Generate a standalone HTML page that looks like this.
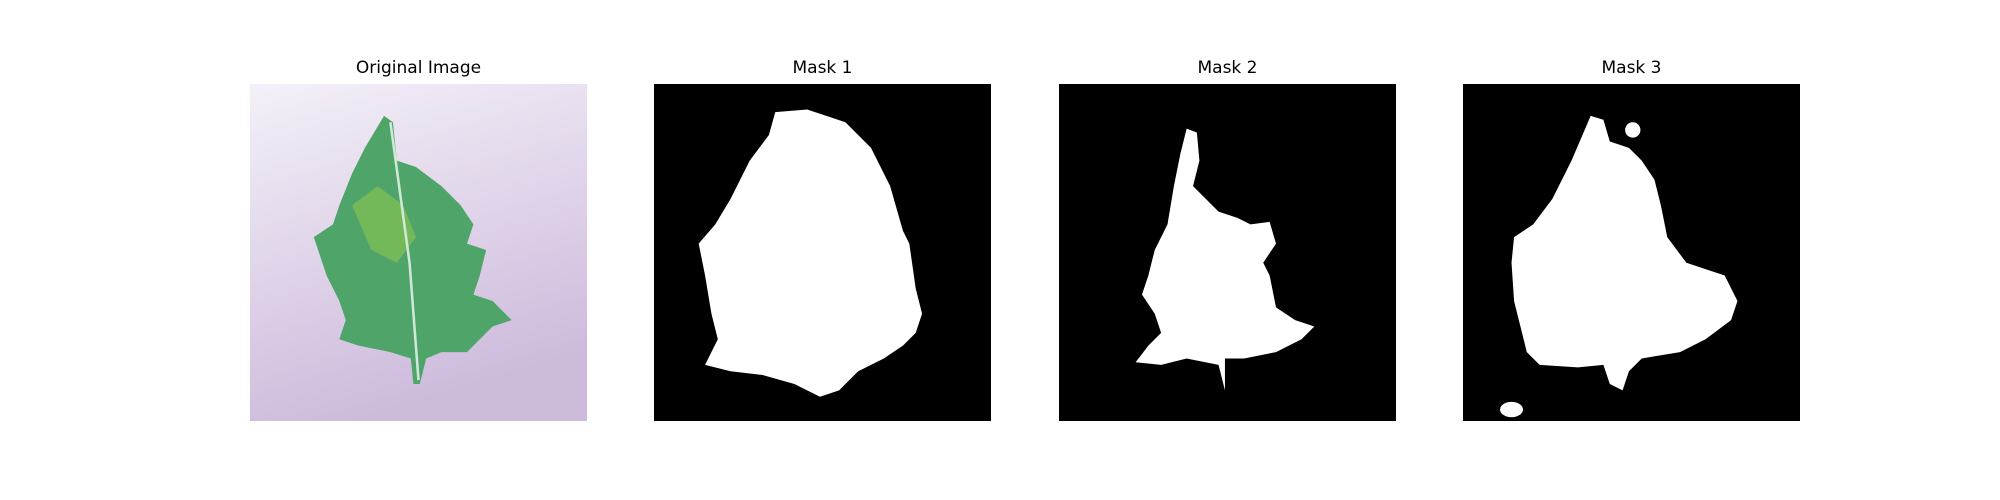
<!DOCTYPE html>
<html><head><meta charset="utf-8"><style>
body{margin:0;width:2000px;height:500px;background:#fff;position:relative;font-family:"DejaVu Sans","Liberation Sans",sans-serif;overflow:hidden}
.t{position:absolute;top:58px;width:337px;text-align:center;font-size:17px;color:#000}
svg{position:absolute;top:84px;width:337px;height:337px}
</style></head><body>
<div class="t" style="left:250px">Original Image</div>
<div class="t" style="left:654px">Mask 1</div>
<div class="t" style="left:1059px">Mask 2</div>
<div class="t" style="left:1463px">Mask 3</div>

<svg style="left:250px" viewBox="0 0 264 264">
<defs><linearGradient id="bg" x1="0" y1="0" x2="0.3" y2="1"><stop offset="0" stop-color="#f4f0f8"/><stop offset="1" stop-color="#cdbbdc"/></linearGradient></defs>
<rect width="264" height="264" fill="url(#bg)"/>
<path d="M105,25 L112,30 L115,60 L130,65 L150,80 L165,95 L175,110 L170,125 L185,130 L180,150 L175,165 L190,170 L205,185 L190,190 L180,200 L170,210 L150,210 L138,215 L133,235 L128,235 L126,215 L110,210 L85,205 L70,200 L75,185 L70,170 L60,150 L50,120 L65,110 L70,95 L80,70 L90,50 Z" fill="#4fa46a"/>
<path d="M80,95 L100,80 L120,95 L130,120 L115,140 L95,130 Z" fill="#8cc850" opacity="0.6"/>
<path d="M110,30 L125,140 L132,232" stroke="#cfe8d8" stroke-width="2" fill="none"/>
</svg>

<svg style="left:654px" viewBox="0 0 264 264">
<rect width="264" height="264" fill="#000"/>
<path d="M95,22 L120,20 L150,30 L170,50 L185,80 L195,115 L200,125 L205,160 L210,180 L205,195 L195,205 L180,215 L160,225 L145,240 L130,245 L110,235 L85,228 L60,225 L40,220 L50,200 L45,180 L40,150 L35,125 L48,110 L60,90 L75,60 L90,40 Z" fill="#fff"/>
</svg>

<svg style="left:1059px" viewBox="0 0 264 264">
<rect width="264" height="264" fill="#000"/>
<path d="M100,35 L108,38 L110,60 L105,80 L115,90 L125,100 L140,105 L150,110 L165,108 L170,125 L160,140 L165,150 L170,175 L185,185 L200,190 L190,200 L170,210 L145,215 L130,215 L130,240 L125,220 L100,215 L80,220 L60,218 L70,205 L80,195 L75,180 L65,165 L70,150 L75,130 L85,110 L90,80 L95,55 Z" fill="#fff"/>
</svg>

<svg style="left:1463px" viewBox="0 0 264 264">
<rect width="264" height="264" fill="#000"/>
<path d="M100,25 L110,28 L115,45 L130,50 L140,60 L150,75 L155,95 L160,120 L175,140 L190,145 L205,150 L215,170 L210,185 L190,200 L170,210 L140,215 L130,225 L125,240 L115,235 L110,220 L90,222 L60,220 L50,210 L45,190 L40,170 L38,140 L40,120 L55,110 L70,90 L85,60 Z" fill="#fff"/>
<ellipse cx="133" cy="36" rx="6" ry="6" fill="#fff"/>
<ellipse cx="38" cy="255" rx="9" ry="6" fill="#fff"/>
</svg>
</body></html>
